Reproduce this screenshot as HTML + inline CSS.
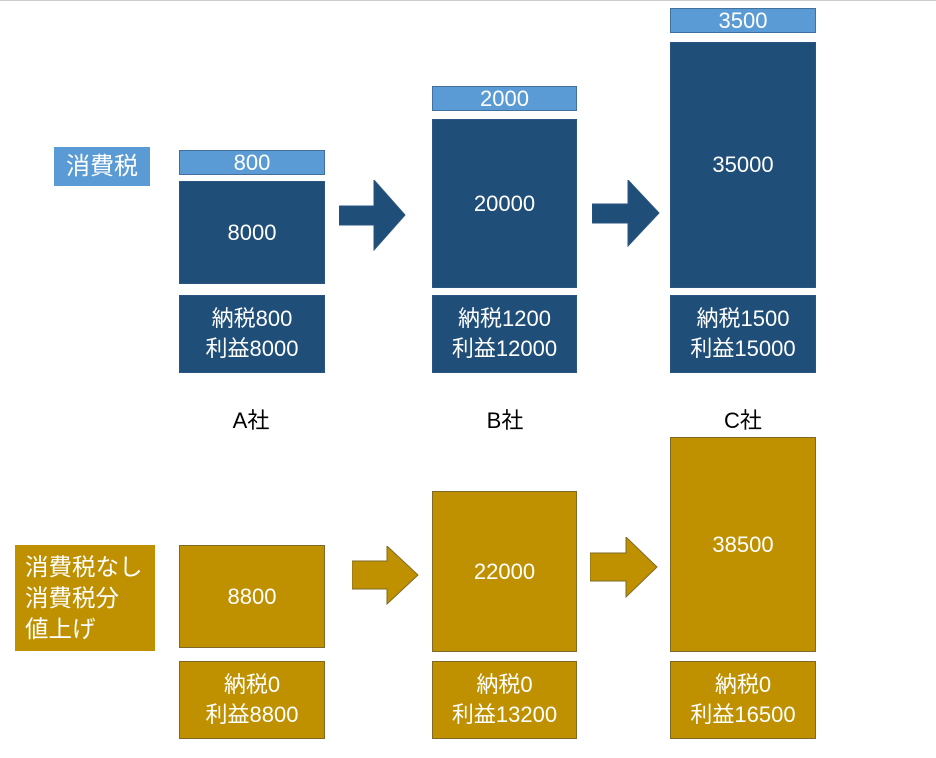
<!DOCTYPE html>
<html><head><meta charset="utf-8"><style>
body{margin:0;width:936px;height:758px;background:#fff;position:relative;overflow:hidden;font-family:"Liberation Sans","Noto Sans CJK JP",sans-serif}
.b{position:absolute;display:flex;align-items:center;justify-content:center;text-align:center;color:#fff;font-size:22px;line-height:30px;box-sizing:border-box}
.d{background:#1F4E79;border:1px solid #2a5580}
.l{background:#5B9BD5;border:1px solid #41719C}
.g{background:#BF9000;border:1px solid #7f6a2a}
.t{position:absolute;color:#000;font-size:22px;text-align:center;width:100px}
svg{position:absolute}
</style></head><body>
<div style="position:absolute;left:0;top:0;width:936px;height:1px;background:#ccc"></div>
<div class="b l" style="left:54px;top:147px;width:96px;height:39px;font-size:24px;border:none">消費税</div>
<div class="b l" style="left:179px;top:150px;width:146px;height:25px">800</div>
<div class="b d" style="left:179px;top:181px;width:146px;height:103px">8000</div>
<div class="b d" style="left:179px;top:295px;width:146px;height:78px">納税800<br>利益8000</div>
<div class="b l" style="left:432px;top:86px;width:145px;height:25px">2000</div>
<div class="b d" style="left:432px;top:119px;width:145px;height:169px">20000</div>
<div class="b d" style="left:432px;top:295px;width:145px;height:78px">納税1200<br>利益12000</div>
<div class="b l" style="left:670px;top:8px;width:146px;height:25px">3500</div>
<div class="b d" style="left:670px;top:42px;width:146px;height:246px">35000</div>
<div class="b d" style="left:670px;top:295px;width:146px;height:78px">納税1500<br>利益15000</div>
<svg style="left:339px;top:180px" width="67" height="71"><polygon points="0,26 35,26 35,0 66,35 35,70 35,45 0,45" fill="#1F4E79" stroke="#2a5580"/></svg>
<svg style="left:592px;top:180px" width="68" height="68"><polygon points="0,24 36,24 36,0 67,33 36,66 36,43 0,43" fill="#1F4E79" stroke="#2a5580"/></svg>
<div class="t" style="left:201px;top:403px">A社</div>
<div class="t" style="left:455px;top:403px">B社</div>
<div class="t" style="left:693px;top:403px">C社</div>
<div class="b g" style="left:15px;top:545px;width:140px;height:106px;font-size:23.5px;line-height:31px;justify-content:flex-start;padding-left:10px;text-align:left;border:none;white-space:nowrap">消費税なし<br>消費税分<br>値上げ</div>
<div class="b g" style="left:179px;top:545px;width:146px;height:103px">8800</div>
<div class="b g" style="left:179px;top:661px;width:146px;height:78px">納税0<br>利益8800</div>
<div class="b g" style="left:432px;top:491px;width:145px;height:161px">22000</div>
<div class="b g" style="left:432px;top:661px;width:145px;height:78px">納税0<br>利益13200</div>
<div class="b g" style="left:670px;top:437px;width:146px;height:215px">38500</div>
<div class="b g" style="left:670px;top:661px;width:146px;height:78px">納税0<br>利益16500</div>
<svg style="left:352px;top:546px" width="67" height="59"><polygon points="0,15 35,15 35,0 66,29 35,58 35,43 0,43" fill="#BF9000" stroke="#7f6a2a"/></svg>
<svg style="left:590px;top:537px" width="68" height="61"><polygon points="0,16 36,16 36,0 67,30 36,60 36,44 0,44" fill="#BF9000" stroke="#7f6a2a"/></svg>
</body></html>
